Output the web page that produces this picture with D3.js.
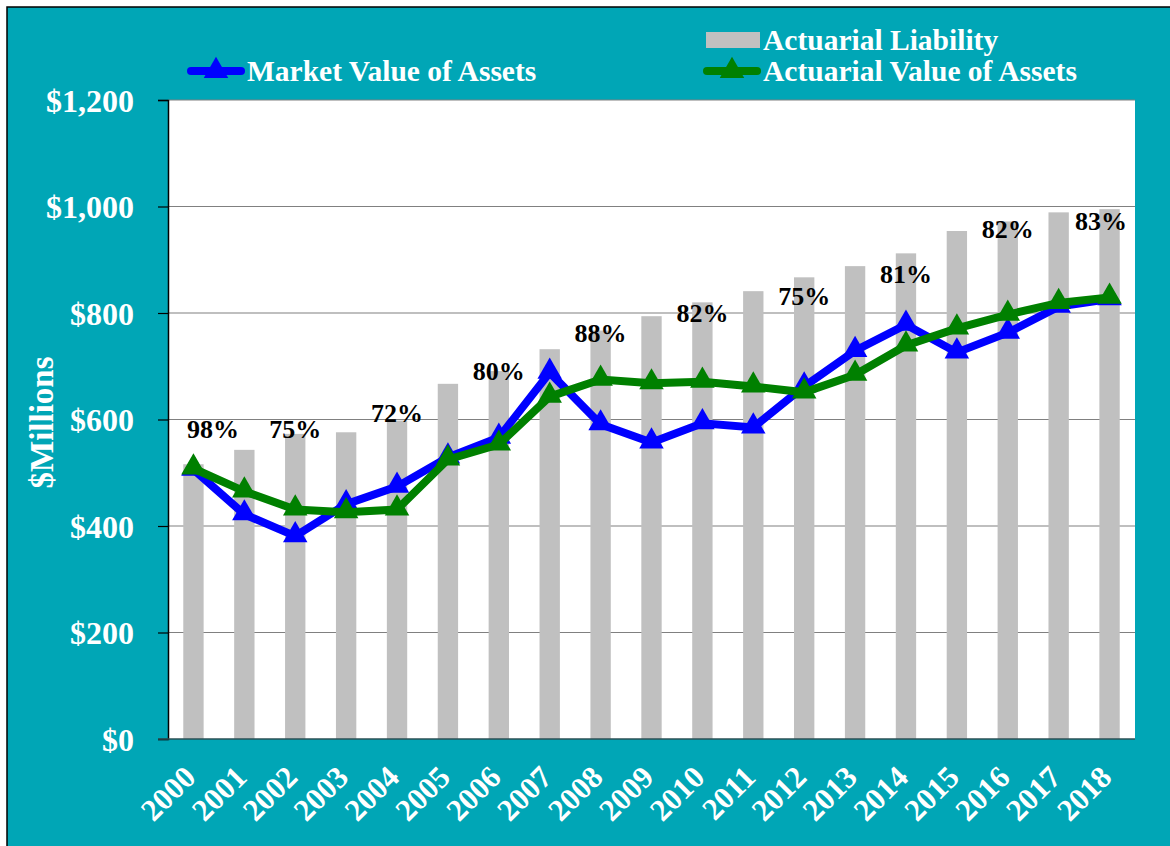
<!DOCTYPE html>
<html>
<head>
<meta charset="utf-8">
<script src="https://cdn.jsdelivr.net/npm/d3@7"></script>
<style>
  html, body { margin: 0; padding: 0; background: #ffffff; }
  svg { display: block; }
  text { font-family: "Liberation Serif", "Times New Roman", serif; font-weight: bold; }
</style>
</head>
<body>
<svg id="chart" width="1170" height="846"></svg>
<script>
// ---- data ----
const years = ["2000","2001","2002","2003","2004","2005","2006","2007","2008","2009",
               "2010","2011","2012","2013","2014","2015","2016","2017","2018"];
const actuarialLiability = [516, 543, 573, 576, 598, 667, 691, 732, 767, 794,
                            820, 841, 867, 888, 912, 954, 972, 989, 995];
const marketValue = [506, 422, 381, 441, 474, 529, 566, 688, 591, 557,
                     593, 585, 662, 729, 778, 726, 763, 812, 826];
const actuarialValue = [508, 465, 431, 426, 431, 525, 553, 643, 675, 668,
                        671, 662, 651, 684, 739, 771, 797, 819, 829];
const fundedYears = ["2000","2002","2004","2006","2008","2010","2012","2014","2016","2018"];
const fundedLabels = ["98%","75%","72%","80%","88%","82%","75%","81%","82%","83%"];
const fundedLabelLevel = [565, 565, 595, 674, 746, 783, 815, 856, 941, 956];
const yTicks = [0, 200, 400, 600, 800, 1000, 1200];

// ---- layout ----
const svg = d3.select("#chart");
const W = 1170, H = 846;
const plot = {left: 168, right: 1135, top: 100, bottom: 739};
const teal = "#00A6B6";

svg.append("rect").attr("x", 7).attr("y", 7).attr("width", W + 10).attr("height", H + 10)
  .attr("fill", teal).attr("stroke", "#000").attr("stroke-width", 1.5);

const x = d3.scaleBand().domain(years).range([plot.left, plot.right]).paddingInner(0).paddingOuter(0);
const y = d3.scaleLinear().domain([0, 1200]).range([plot.bottom, plot.top]);
const cx = d => x(d) + x.bandwidth() / 2;

// plot background
svg.append("rect").attr("x", plot.left).attr("y", plot.top)
  .attr("width", plot.right - plot.left).attr("height", plot.bottom - plot.top)
  .attr("fill", "#ffffff");

// gridlines
svg.append("g").selectAll("line").data(yTicks.filter(t => t > 0)).join("line")
  .attr("x1", plot.left).attr("x2", plot.right)
  .attr("y1", d => y(d)).attr("y2", d => y(d))
  .attr("stroke", "#808080").attr("stroke-width", 1.2);

// bars
const barW = x.bandwidth() * 0.4;
svg.append("g").selectAll("rect").data(years).join("rect")
  .attr("x", (d) => cx(d) - barW / 2)
  .attr("width", barW)
  .attr("y", (d, i) => y(actuarialLiability[i]))
  .attr("height", (d, i) => y(0) - y(actuarialLiability[i]))
  .attr("fill", "#C0C0C0");

// y axis
const yAxis = d3.axisLeft(y).tickValues(yTicks).tickSize(10)
  .tickFormat(d => "$" + d3.format(",")(d));
const gy = svg.append("g").attr("transform", `translate(${plot.left},0)`).call(yAxis);
gy.select(".domain").attr("stroke", "#000").attr("stroke-width", 1.5);
gy.selectAll(".tick line").attr("stroke", "#000").attr("stroke-width", 1.2);
gy.selectAll(".tick text").attr("fill", "#fff").attr("font-size", 32)
  .attr("font-family", "Liberation Serif").attr("font-weight", "bold")
  .attr("x", -34).attr("dy", "0.35em");

// x axis
const xAxis = d3.axisBottom(x).tickSize(0).tickFormat(d => d);
const gx = svg.append("g").attr("transform", `translate(0,${plot.bottom})`).call(xAxis);
gx.select(".domain").attr("stroke", "#2b4f55").attr("stroke-width", 1.5)
  .attr("d", `M${plot.left - 10},0H${plot.right}`);
gx.selectAll(".tick text")
  .attr("fill", "#fff").attr("font-size", 31)
  .attr("font-family", "Liberation Serif").attr("font-weight", "bold")
  .attr("text-anchor", "end").attr("dy", null).attr("y", null)
  .attr("transform", "translate(4,40) rotate(-45)");

// y axis title
svg.append("text").attr("transform", `translate(53,${(plot.top + plot.bottom) / 2 + 3}) rotate(-90)`)
  .attr("text-anchor", "middle").attr("fill", "#fff").attr("font-size", 33)
  .text("$Millions");

// lines
const triangle = d3.symbol().type(d3.symbolTriangle).size(260);
function series(values, color) {
  const line = d3.line().x((d, i) => cx(years[i])).y(d => y(d));
  svg.append("path").datum(values).attr("d", line)
    .attr("fill", "none").attr("stroke", color).attr("stroke-width", 8)
    .attr("stroke-linejoin", "miter");
  svg.append("g").selectAll("path").data(values).join("path")
    .attr("d", triangle)
    .attr("transform", (d, i) => `translate(${cx(years[i])},${y(d) - 1})`)
    .attr("fill", color);
}
series(marketValue, "#0000FF");
series(actuarialValue, "#008000");

// funded ratio labels (kept inside the plot area)
svg.append("g").selectAll("text").data(fundedYears).join("text")
  .attr("x", d => Math.min(Math.max(cx(d), plot.left + 45), plot.right - 34))
  .attr("y", (d, i) => y(fundedLabelLevel[i]))
  .attr("text-anchor", "middle").attr("fill", "#000").attr("font-size", 26)
  .text((d, i) => fundedLabels[i]);

// legend
const lg = svg.append("g");
lg.append("rect").attr("x", 706).attr("y", 32).attr("width", 54).attr("height", 16).attr("fill", "#C0C0C0");
lg.append("text").attr("x", 763).attr("y", 50).attr("fill", "#fff").attr("font-size", 29.5).text("Actuarial Liability");

function legendLine(x0, x1, yy, color, label) {
  lg.append("line").attr("x1", x0 + 4).attr("x2", x1 - 4).attr("y1", yy).attr("y2", yy)
    .attr("stroke", color).attr("stroke-width", 8).attr("stroke-linecap", "round");
  lg.append("path").attr("d", triangle).attr("transform", `translate(${(x0 + x1) / 2},${yy})`).attr("fill", color);
  lg.append("text").attr("x", x1 + 2).attr("y", yy + 10).attr("fill", "#fff").attr("font-size", 29.5).text(label);
}
legendLine(187, 245, 71, "#0000FF", "Market Value of Assets");
legendLine(703, 761, 71, "#008000", "Actuarial Value of Assets");
</script>
</body>
</html>
